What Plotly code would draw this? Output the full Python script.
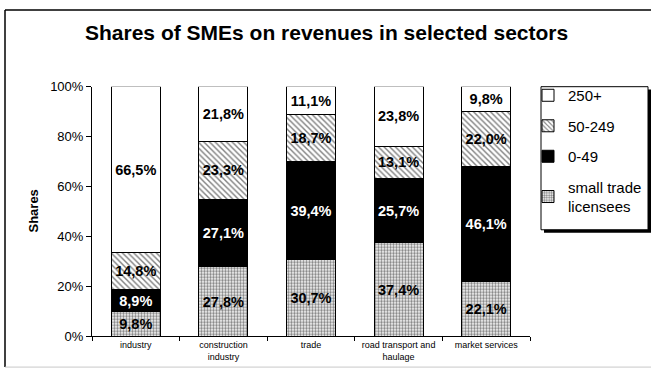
import plotly.graph_objects as go

W, H = 651, 377

sectors = ["industry", "construction<br>industry", "trade",
           "road transport and<br>haulage", "market services"]
small_trade = [9.8, 27.8, 30.7, 37.4, 22.1]
size_0_49 = [8.9, 27.1, 39.4, 25.7, 46.1]
size_50_249 = [14.8, 23.3, 18.7, 13.1, 22.0]
size_250_plus = [66.5, 21.8, 11.1, 23.8, 9.8]

series_names = ["small trade<br>licensees", "0-49", "50-249", "250+"]
y_ticks = [0, 20, 40, 60, 80, 100]
y_tick_labels = ["0%", "20%", "40%", "60%", "80%", "100%"]

FONT = "Liberation Sans, Arial, sans-serif"


def px_x(x):
    return x / W


def px_y(y):
    return (H - y) / H


def pct(v):
    return f"{v:.1f}%".replace(".", ",")


styles = [
    dict(pattern=dict(shape=".", fgcolor="black", bgcolor="white", size=3, solidity=0.5),
         color="white", text_color="black"),
    dict(pattern=None, color="black", text_color="white"),
    dict(pattern=dict(shape="\\", fgcolor="black", bgcolor="white", size=4, solidity=0.35),
         color="white", text_color="black"),
    dict(pattern=None, color="white", text_color="black"),
]

fig = go.Figure()
series = [small_trade, size_0_49, size_50_249, size_250_plus]
for i, (name, vals, st) in enumerate(zip(series_names, series, styles)):
    marker = dict(color=st["color"], line=dict(color="black", width=1))
    if st["pattern"]:
        marker["pattern"] = st["pattern"]
    fig.add_trace(go.Bar(
        x=sectors, y=vals, name=name, legendgroup=name,
        legendrank=len(series) - i,  # top segment listed first
        marker=marker,
        text=[pct(v) for v in vals],
        textposition="inside", insidetextanchor="middle",
        textangle=0,
        textfont=dict(family=FONT, size=14.5, color=st["text_color"], weight="bold"),
        constraintext="none",
        hoverinfo="skip",
    ))

# chart frame (left/top dark, bottom light)
shapes = [
    dict(type="line", xref="paper", yref="paper", x0=px_x(5), x1=px_x(5), y0=px_y(3), y1=px_y(375),
         line=dict(color="black", width=1.5)),
    dict(type="line", xref="paper", yref="paper", x0=px_x(5), x1=px_x(651), y0=px_y(3), y1=px_y(3),
         line=dict(color="black", width=1.5)),
    dict(type="line", xref="paper", yref="paper", x0=px_x(5), x1=px_x(651), y0=px_y(375), y1=px_y(375),
         line=dict(color="#c8c8c8", width=1)),
    # legend box with drop shadow
    dict(type="rect", xref="paper", yref="paper", x0=px_x(544), x1=px_x(651), y0=px_y(86), y1=px_y(235),
         fillcolor="black", line=dict(width=0)),
    dict(type="rect", xref="paper", yref="paper", x0=px_x(541), x1=px_x(648), y0=px_y(83), y1=px_y(232),
         fillcolor="white", line=dict(color="black", width=1)),
]

fig.update_layout(
    width=W, height=H,
    margin=dict(l=0, r=0, t=0, b=0),
    paper_bgcolor="white", plot_bgcolor="white",
    barmode="stack", bargap=0.44,
    showlegend=True,
    legend=dict(
        x=px_x(528), y=px_y(75), xanchor="left", yanchor="top",
        traceorder="grouped", tracegroupgap=8,
        bgcolor="rgba(0,0,0,0)", borderwidth=0,
        font=dict(family=FONT, size=15, color="black"),
        itemwidth=30,
    ),
    xaxis=dict(
        domain=[px_x(92), px_x(530)],
        showline=True, linecolor="black", linewidth=1,
        ticks="outside", tickson="boundaries", ticklen=4, tickcolor="black",
        tickfont=dict(family=FONT, size=9, color="black"),
        showgrid=False, fixedrange=True,
    ),
    yaxis=dict(
        domain=[px_y(343), px_y(83)],
        range=[0, 100],
        tickvals=y_ticks, ticktext=y_tick_labels,
        showline=True, linecolor="black", linewidth=1,
        ticks="outside", ticklen=5, tickcolor="black",
        tickfont=dict(family=FONT, size=13, color="black"),
        showgrid=False, zeroline=False, fixedrange=True,
    ),
    shapes=shapes,
    annotations=[
        dict(text="<b>Shares of SMEs on revenues in selected sectors</b>", xref="paper", yref="paper",
             x=px_x(326), y=px_y(27), showarrow=False, xanchor="center", yanchor="middle",
             font=dict(family=FONT, size=21, color="black")),
        dict(text="<b>Shares</b>", xref="paper", yref="paper", textangle=-90,
             x=px_x(34), y=px_y(213), showarrow=False, xanchor="center", yanchor="middle",
             font=dict(family=FONT, size=13, color="black")),
    ],
)

fig.write_html("out.html")
